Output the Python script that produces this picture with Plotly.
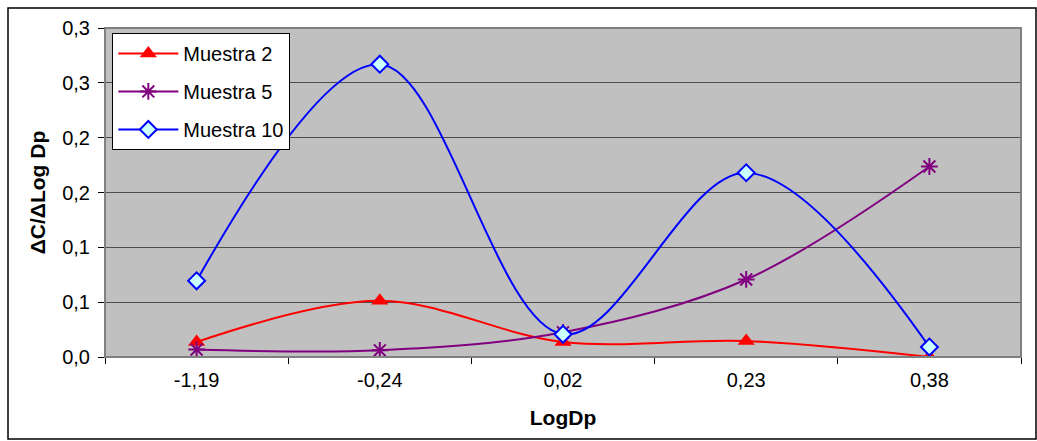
import plotly.graph_objects as go

categories = ["-1,19", "-0,24", "0,02", "0,23", "0,38"]
muestra2 = [0.0137, 0.0512, 0.0137, 0.0146, 0.0]
muestra5 = [0.0068, 0.0061, 0.0225, 0.0707, 0.1737]
muestra10 = [0.0695, 0.267, 0.0207, 0.168, 0.0091]
y_tickvals = [0, 0.05, 0.1, 0.15, 0.2, 0.25, 0.3]
y_ticktext = ["0,0", "0,1", "0,1", "0,2", "0,2", "0,3", "0,3"]

FONT = "Liberation Sans, Arial, sans-serif"

fig = go.Figure()
fig.add_trace(go.Scatter(
    x=categories, y=muestra2, name="Muestra 2", mode="lines+markers", legendgroup="a",
    line=dict(color="#FF0000", width=2, shape="spline", smoothing=1.0),
    marker=dict(symbol="triangle-up", size=15, color="#FF0000"),
))
fig.add_trace(go.Scatter(
    x=categories, y=muestra5, name="Muestra 5", mode="lines+markers", legendgroup="b",
    line=dict(color="#800080", width=2, shape="spline", smoothing=1.0),
    marker=dict(symbol="asterisk-open", size=14, color="#800080",
                line=dict(color="#800080", width=2)),
))
fig.add_trace(go.Scatter(
    x=categories, y=muestra10, name="Muestra 10", mode="lines+markers", legendgroup="c",
    line=dict(color="#0000FF", width=2, shape="spline", smoothing=1.0),
    marker=dict(symbol="diamond", size=13, color="#CCFFFF",
                line=dict(color="#0000FF", width=2)),
))

fig.update_layout(
    width=1037, height=441,
    margin=dict(l=105, r=16, t=28, b=84),
    paper_bgcolor="white",
    plot_bgcolor="#C0C0C0",
    font=dict(family=FONT, size=20, color="black"),
    showlegend=True,
    legend=dict(
        x=0.008, y=0.985, xanchor="left", yanchor="top",
        bgcolor="white", bordercolor="black", borderwidth=1,
        font=dict(family=FONT, size=20, color="black"),
        traceorder="grouped", tracegroupgap=9, itemwidth=60,
    ),
    xaxis=dict(
        type="category", range=[-0.5, 4.5],
        tickson="boundaries", ticks="outside", ticklen=6, tickcolor="black",
        showgrid=False, showline=True, linecolor="black", linewidth=1,
        tickfont=dict(family=FONT, size=20), ticklabelstandoff=5,
        title=dict(text="<b>LogDp</b>", font=dict(family=FONT, size=21), standoff=20),
        zeroline=False, mirror=False,
    ),
    yaxis=dict(
        range=[0, 0.3], tickvals=y_tickvals, ticktext=y_ticktext,
        ticks="outside", ticklen=6, tickcolor="black",
        showgrid=True, gridcolor="#4d4d4d", gridwidth=1,
        showline=True, linecolor="black", linewidth=1,
        tickfont=dict(family=FONT, size=20), ticklabelstandoff=4,
        title=dict(text="<b>ΔC/ΔLog Dp</b>", font=dict(family=FONT, size=21), standoff=10),
        zeroline=False,
    ),
    shapes=[
        dict(type="rect", xref="paper", yref="paper", x0=0, x1=1, y0=0, y1=1,
             line=dict(color="#808080", width=2), fillcolor="rgba(0,0,0,0)", layer="above"),
        dict(type="rect", xref="paper", yref="paper",
             x0=-97/916, x1=1 + 15/916, y0=-82/329, y1=1 + 20/329,
             line=dict(color="black", width=1.5), fillcolor="rgba(0,0,0,0)"),
    ],
)

fig.write_html("out.html")
